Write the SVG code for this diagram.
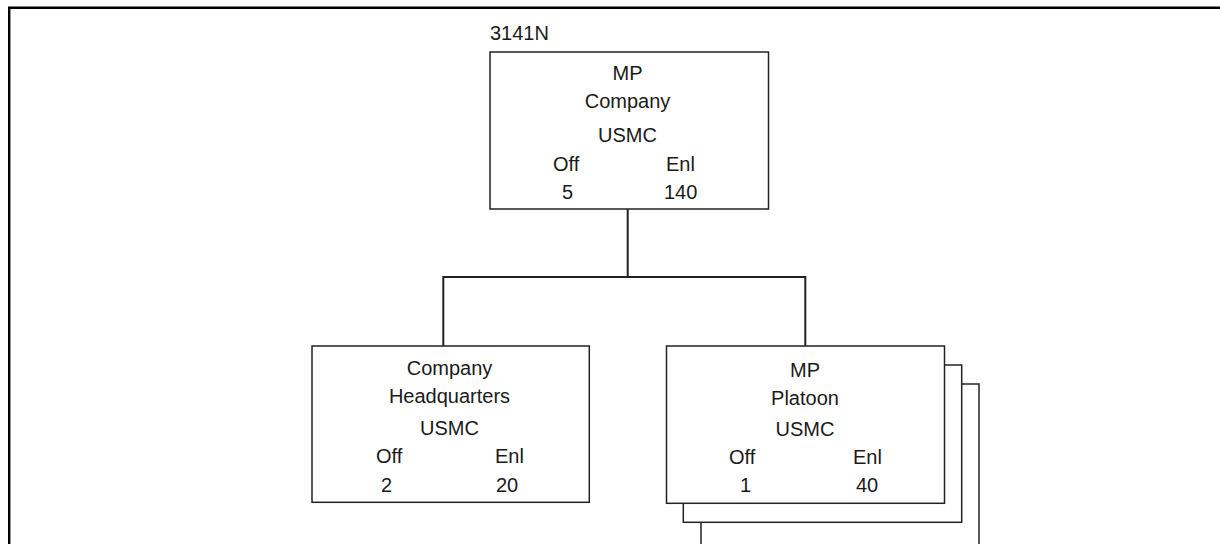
<svg xmlns="http://www.w3.org/2000/svg" width="1220" height="544" viewBox="0 0 1220 544">
<style>
.box{fill:#fff;stroke:#222;stroke-width:1.5}
.conn{fill:none;stroke:#222;stroke-width:2}
.frame{fill:none;stroke:#000;stroke-width:2.4}
text{font-family:"Liberation Sans",Arial,sans-serif;font-size:20px;fill:#1a1a1a}
.c{text-anchor:middle}
</style>
<rect width="1220" height="544" fill="#fff"/>
<path class="frame" d="M9.2,544 V7.7 H1220"/>
<g id="connectors">
<path class="conn" d="M627.7,209 V277 M443.3,277 H805.3 M443.3,276 V346 M805.3,276 V346"/>
</g>
<g id="mp-company">
<text x="490" y="40">3141N</text>
<rect class="box" x="490" y="52" width="278.5" height="157"/>
<text class="c" x="627.5" y="80">MP</text>
<text class="c" x="627.5" y="108">Company</text>
<text class="c" x="627.5" y="142">USMC</text>
<text x="553" y="171">Off</text>
<text x="562" y="199">5</text>
<text x="666" y="171">Enl</text>
<text x="664" y="199">140</text>
</g>
<g id="company-hq">
<rect class="box" x="312" y="346" width="277.3" height="156.3"/>
<text class="c" x="449.5" y="375">Company</text>
<text class="c" x="449.5" y="403">Headquarters</text>
<text class="c" x="449.5" y="435">USMC</text>
<text x="376" y="463">Off</text>
<text x="381" y="492">2</text>
<text x="495" y="463">Enl</text>
<text x="496" y="492">20</text>
</g>
<g id="mp-platoon">
<rect class="box" x="701" y="384" width="278" height="170"/>
<rect class="box" x="683.3" y="365" width="278.4" height="157.3"/>
<rect class="box" x="666.5" y="346" width="278" height="157.3"/>
<text class="c" x="805" y="377">MP</text>
<text class="c" x="805" y="405">Platoon</text>
<text class="c" x="805" y="436">USMC</text>
<text x="729" y="464">Off</text>
<text x="740" y="492">1</text>
<text x="853" y="464">Enl</text>
<text x="856" y="492">40</text>
</g>
</svg>
